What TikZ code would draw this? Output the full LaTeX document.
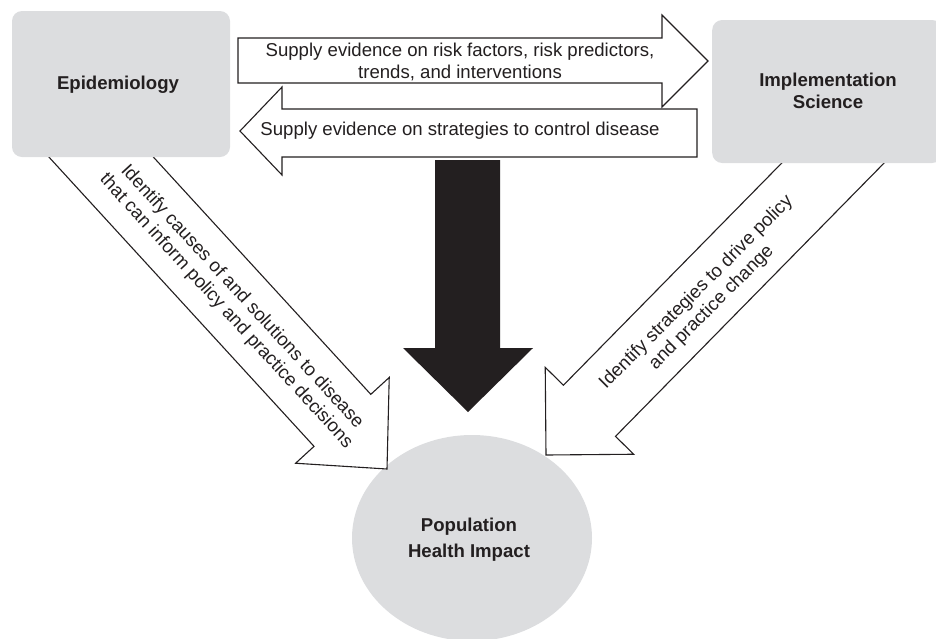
\documentclass[tikz,border=0pt]{standalone}
\usepackage{fontspec}
\setmainfont{Liberation Sans}
\usetikzlibrary{shapes.geometric}
\definecolor{boxgray}{HTML}{DCDDDF}
\definecolor{ink}{HTML}{231F20}
\begin{document}
\begin{tikzpicture}[x=1pt,y=-1pt,
  lbl/.style={font=\fontsize{18.6}{21.5}\selectfont, text=ink, align=center, inner sep=0pt},
  ttl/.style={font=\fontsize{18.6}{22}\selectfont\bfseries, text=ink, align=center, inner sep=0pt},
  blockarrow/.style={draw=ink, line width=1.1pt, fill=white, line join=miter},
  graybox/.style={fill=boxgray, rounded corners=10pt, inner sep=0pt}]
\useasboundingbox (0,0) rectangle (936,638);

% population ellipse
\node[ellipse, fill=boxgray, minimum width=240pt, minimum height=206pt, inner sep=0pt] (pop) at (472,538) {};
\node[ttl, font=\fontsize{18.6}{26}\selectfont\bfseries] (poptext) at (469,540) {Population\\Health Impact};

% left diagonal arrow
\begin{scope}[shift={(387,469)}, rotate=-47.5]
  \draw[blockarrow] (0,0) -- (-66,63.5) -- (-66,38.5) -- (-480,38.5) -- (-480,-38.5) -- (-66,-38.5) -- (-66,-63.5) -- cycle;
\end{scope}
% right diagonal arrow
\begin{scope}[shift={(546,455)}, rotate=-134.5]
  \draw[blockarrow] (0,0) -- (-62,62) -- (-62,36.5) -- (-470,36.5) -- (-470,-36.5) -- (-62,-36.5) -- (-62,-62) -- cycle;
\end{scope}

% top arrows
\draw[blockarrow] (238,38) -- (662,38) -- (662,15) -- (708,61) -- (662,107) -- (662,83) -- (238,83) -- cycle;
\draw[blockarrow] (697,109) -- (282,109) -- (282,87) -- (240,131) -- (282,175) -- (282,157) -- (697,157) -- cycle;

% black arrow
\fill[ink] (435,160) -- (500,160) -- (500,348) -- (533,348) -- (468,412) -- (403,348) -- (435,348) -- cycle;

% boxes
\node[graybox, minimum width=218pt, minimum height=146pt] (epi) at (121,84) {};
\node[ttl] (epitext) at (118,85) {Epidemiology};
\node[graybox, minimum width=230pt, minimum height=143pt, anchor=west] (impl) at (712,91.5) {};
\node[ttl] (impltext) at (828,91) {Implementation\\Science};

% labels
\node[lbl] (t1) at (460,62) {Supply evidence on risk factors, risk predictors,\\trends, and interventions};
\node[lbl] (t2) at (460,131) {Supply evidence on strategies to control disease};
\node[lbl, rotate=-47.5] (t3) at (234,304) {Identify causes of and solutions to disease\\that can inform policy and practice decisions};
\node[lbl, rotate=45] (t4) at (704,300) {Identify strategies to drive policy\\and practice change};
\end{tikzpicture}
\end{document}
